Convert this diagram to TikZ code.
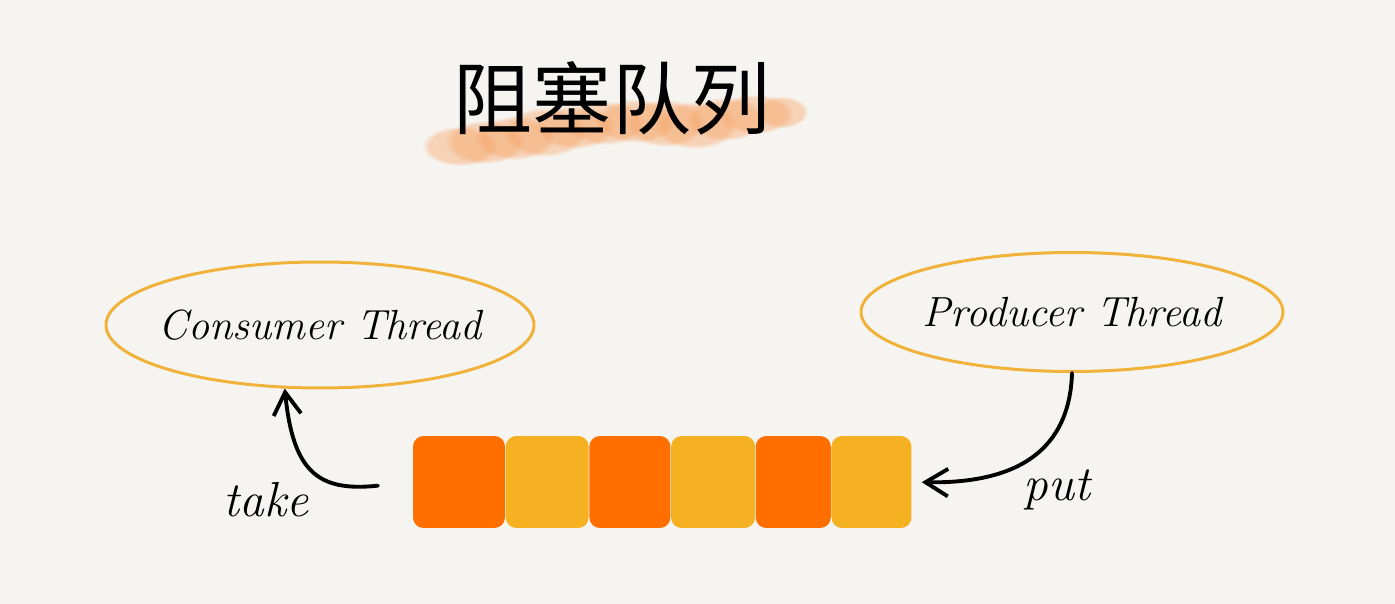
\documentclass[tikz,border=0pt]{standalone}
\usepackage{fontspec}
\newfontfamily\cjk{Noto Sans CJK SC}
\usetikzlibrary{arrows.meta,positioning,fadings,shapes.geometric}
\definecolor{paper}{HTML}{F6F4F0}
\definecolor{ring}{HTML}{F0B23A}
\definecolor{hot}{HTML}{FF6F00}
\definecolor{warm}{HTML}{F5B122}
\definecolor{brush}{HTML}{F7A060}
\tikzset{
    %Define standard arrow tip
    >={Straight Barb[length=4.5mm,width=5.5mm]},
    %Define style for the threads
    thread/.style={
           ellipse,
           draw=ring, line width=1.7pt,
           inner ysep=0pt,
           font=\fontsize{24}{24}\selectfont\itshape},
    %Define style for queue cells
    cell/.style={
           rectangle,
           rounded corners=6pt,
           minimum height=1.84cm,
           inner sep=0pt},
    % Define arrow style
    ink/.style={
           ->,
           line width=2.2pt,
           line cap=round},
    word/.style={font=\fontsize{28}{28}\selectfont\itshape},
    smear/.style={fill=brush, opacity=0.4,
           path fading=circle with fuzzy edge 20 percent}
}
\begin{document}
\begin{tikzpicture}[x=0.02cm,y=-0.02cm,node distance=0pt]
\fill[paper] (0,0) rectangle (1395,604);
% brush stroke under the title
\foreach \bx/\by/\rx/\ry in {460/146/38/20, 485/142/40/22, 515/138/40/22,
    545/132/42/25, 575/127/40/22, 605/123/40/22, 635/121/40/22,
    665/123/40/24, 695/125/42/24, 725/119/40/22, 755/114/38/20, 782/112/26/16}
  \fill[smear] (\bx,\by) ellipse [x radius=\rx,y radius=\ry];
\node (title) at (612,98) {\cjk\fontsize{45}{45}\selectfont 阻塞队列};
% threads
\node[thread, inner xsep=-0.2cm, minimum width=8.5cm, minimum height=2.52cm] (consumer) at (320,325) {Consumer Thread};
\node[thread, inner xsep=0cm, minimum width=8.42cm, minimum height=2.38cm] (producer) at (1072,312) {Producer Thread};
% queue
\node[cell, fill=hot, minimum width=1.84cm] (q1) at (459,482) {};
\node[cell, fill=warm, minimum width=1.66cm, right=of q1] (q2) {};
\node[cell, fill=hot, minimum width=1.62cm, right=of q2] (q3) {};
\node[cell, fill=warm, minimum width=1.68cm, right=of q3] (q4) {};
\node[cell, fill=hot, minimum width=1.50cm, right=of q4] (q5) {};
\node[cell, fill=warm, minimum width=1.60cm, right=of q5] (q6) {};
% labels
\node[word] (take) at (266,500) {take};
\node[word] (put) at (1057,490) {put};
\draw[ink, shorten <=0.7cm] (q1.west) .. controls (318,492) and (293,472) .. (consumer.241);
\draw[ink, shorten >=0.2cm] (producer.south) .. controls (1070,440) and (1030,484) .. (q6.east);
\end{tikzpicture}
\end{document}
